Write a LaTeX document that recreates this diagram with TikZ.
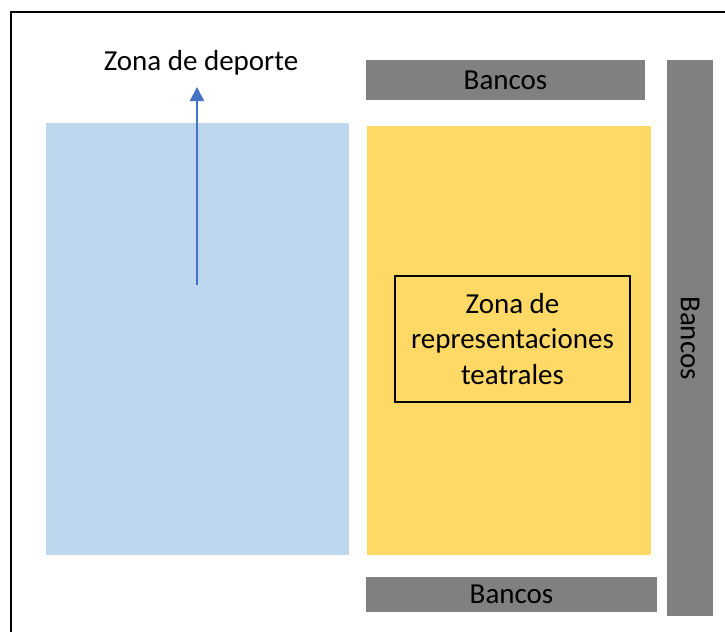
\documentclass[tikz,border=0pt]{standalone}
\usepackage{fontspec}
\setmainfont{Carlito}
\usepackage{tikz}
\usetikzlibrary{arrows.meta,positioning}
\tikzset{
  zone/.style = {draw=none, rectangle, inner sep=0pt},
  bench/.style = {zone, fill=my_gray, text=black, font=\fontsize{16.5}{20}\selectfont}
}
\definecolor{my_gray}{RGB}{128, 128, 128}
\definecolor{my_blue}{RGB}{189, 215, 238}
\definecolor{my_yellow}{RGB}{255, 217, 102}
\definecolor{my_arrow}{RGB}{68, 114, 196}

\begin{document}
\begin{tikzpicture}[x=0.02cm, y=-0.02cm,
        	sport/.style={zone, fill=my_blue},
        	stage/.style={zone, fill=my_yellow},
        	label/.style={align=center, inner sep=0pt, font=\fontsize{16.5}{20}\selectfont}]
    \useasboundingbox (0,0) rectangle (725,632);
    % outer frame (top and left only)
    \coordinate (frame_bl) at (11,632);
    \coordinate (frame_tl) at (11,12);
    \coordinate (frame_tr) at (725,12);
    \draw[line width=1.7pt] (frame_bl) -- (frame_tl) -- (frame_tr);
    % zones
    \node [sport, minimum width=6.06cm, minimum height=8.64cm] (deporte) at (197.5,339) {};
    \node [stage, minimum width=5.68cm, minimum height=8.58cm] (teatro) at (509,340.5) {};
    \node [label, draw, line width=1pt, minimum width=4.7cm, minimum height=2.52cm] (teatro_txt) at (512.5,339)
        {Zona de\\representaciones\\teatrales};
    % benches
    \node [bench, minimum width=5.58cm, minimum height=0.8cm] (bancos_top) at (505.5,80) {Bancos};
    \node [bench, minimum width=5.82cm, minimum height=0.7cm] (bancos_bot) at (511.5,594.5) {Bancos};
    \node [bench, minimum width=0.92cm, minimum height=11.12cm] (bancos_der) at (690,338) {};
    \node [label, rotate=-90] (bancos_der_txt) at (bancos_der.center) {Bancos};
    % sport label with arrow
    \node [label] (deporte_txt) at (201,63) {Zona de deporte};
    \coordinate (arrow_start) at (197,285);
    \coordinate (arrow_end) at (197,87);
    \draw[-{Triangle[width=8pt,length=8pt]}, my_arrow, line width=1pt] (arrow_start) -- (arrow_end);
\end{tikzpicture}
\end{document}
